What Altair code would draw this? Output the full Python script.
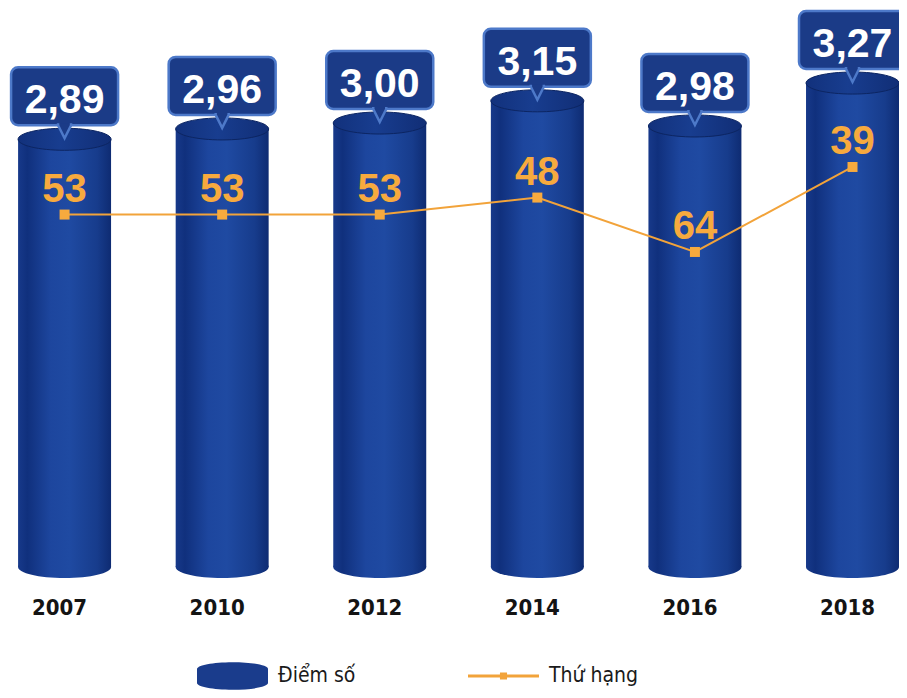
import altair as alt
import pandas as pd

# ---- data ----
years = ["2007", "2010", "2012", "2014", "2016", "2018"]
scores = [2.89, 2.96, 3.00, 3.15, 2.98, 3.27]
ranks = [53, 53, 53, 48, 64, 39]
legend_labels = ["Điểm số", "Thứ hạng"]

df = pd.DataFrame({"year": years, "score": scores, "rank": ranks})
df["score_label"] = [f"{v:.2f}".replace(".", ",") for v in scores]
df["rank_label"] = [str(r) for r in ranks]
leg = pd.DataFrame({"series": legend_labels})

# ---- styles ----
NARROW = "Liberation Sans Narrow, DejaVu Sans Condensed, Liberation Sans, sans-serif"
BOLD = "Liberation Sans, Arial, sans-serif"
NAVY = "#1a3c8c"
BOX_FILL = "#1b3b87"
BOX_STROKE = "#4d79c9"
ORANGE = "#f2a33a"
ORANGE_TXT = "#f7aa3e"

ELLIPSE = "M-1,0 A1,0.237 0 0 1 1,0 A1,0.237 0 0 1 -1,0 Z"
POINTER = "M-1,-1.3 L-1,-1 L0,1 L1,-1 L1,-1.3"
CYL_ICON = "M-1,-0.2 A1,0.19 0 0 1 1,-0.2 L1,0.2 A1,0.19 0 0 1 -1,0.2 Z"
LINE_ICON = ("M-1,-0.04 L1,-0.04 L1,0.04 L-1,0.04 Z "
             "M-0.1,-0.1 L0.1,-0.1 L0.1,0.1 L-0.1,0.1 Z")

body_grad = alt.Gradient(
    gradient="linear", x1=0, x2=1, y1=0, y2=0,
    stops=[
        alt.GradientStop(color="#17398a", offset=0),
        alt.GradientStop(color="#10307d", offset=0.1),
        alt.GradientStop(color="#1d469e", offset=0.35),
        alt.GradientStop(color="#1f4aa2", offset=0.55),
        alt.GradientStop(color="#173c8c", offset=0.85),
        alt.GradientStop(color="#0e2b72", offset=1),
    ],
)
cap_grad = alt.Gradient(
    gradient="linear", x1=0, x2=1, y1=0, y2=0,
    stops=[
        alt.GradientStop(color="#12317c", offset=0),
        alt.GradientStop(color="#183d8f", offset=0.45),
        alt.GradientStop(color="#112e76", offset=1),
    ],
)

x_enc = alt.X(
    "year:N", sort=years,
    scale=alt.Scale(paddingInner=0.41, paddingOuter=0.032, align=1),
    axis=alt.Axis(title=None, labelAngle=0, domain=False, ticks=False, grid=False,
                  labelFont=NARROW, labelFontSize=22, labelFontWeight="bold",
                  labelColor="#141414", labelPadding=19, labelOffset=-5),
)
score_scale = alt.Scale(domain=[-0.0743, 3.777], nice=False, zero=False)
rank_scale = alt.Scale(domain=[-7.76, 159.9], reverse=True, nice=False, zero=False)
y_score = alt.Y("score:Q", scale=score_scale, axis=None)
y_rank = alt.Y("rank:Q", scale=rank_scale, axis=None)

base = alt.Chart(df)

bottom_cap = base.mark_point(shape=ELLIPSE, size=93 * 93, filled=True, fill=body_grad,
                             opacity=1, strokeWidth=0).encode(
    x=x_enc, y=alt.Y(datum=0, type="quantitative", scale=score_scale, axis=None))
body = base.mark_bar(fill=body_grad).encode(
    x=x_enc, y=y_score, y2=alt.Y2(datum=0))
top_cap = base.mark_point(shape=ELLIPSE, size=93 * 93, filled=True, fill=cap_grad,
                          stroke="#0c2562", strokeWidth=1, opacity=1).encode(x=x_enc, y=y_score)

line = base.mark_line(color=ORANGE, strokeWidth=2).encode(x=x_enc, y=y_rank)
pts = base.mark_point(shape="square", size=100, filled=True, color=ORANGE_TXT,
                      opacity=1).encode(x=x_enc, y=y_rank)
rank_text = base.mark_text(dy=-13, baseline="alphabetic", font=BOLD, fontSize=40,
                           fontWeight="bold", color=ORANGE_TXT).encode(
    x=x_enc, y=y_rank, text="rank_label:N")

box = base.mark_bar(size=107, cornerRadius=7, fill=BOX_FILL, stroke=BOX_STROKE,
                    strokeWidth=2.5, yOffset=-72, y2Offset=-14, clip=True).encode(
    x=x_enc, y=y_score, y2="score:Q")
pointer = base.mark_point(shape=POINTER, size=169, filled=True, fill=BOX_FILL,
                          stroke=BOX_STROKE, strokeWidth=2.5, opacity=1,
                          yOffset=-7.5).encode(x=x_enc, y=y_score)
box_text = base.mark_text(dy=-26, baseline="alphabetic", font=BOLD, fontSize=41,
                          fontWeight="bold", color="white").encode(
    x=x_enc, y=y_score, text="score_label:N")

legend_def = alt.Legend(title=None, orient="none", legendX=189, legendY=653,
                        direction="horizontal", symbolSize=5041, symbolStrokeWidth=0,
                        labelFont=NARROW, labelFontSize=21, labelColor="#1a1a1a",
                        labelOffset=10, columnPadding=112, clipHeight=30, padding=0)
legend_layer = alt.Chart(leg).mark_point(filled=True, opacity=1, size=5041, clip=True).encode(
    x=alt.value(-400), y=alt.value(-400),
    color=alt.Color("series:N", sort=legend_labels,
                    scale=alt.Scale(domain=legend_labels, range=[NAVY, ORANGE]),
                    legend=legend_def),
    shape=alt.Shape("series:N", sort=legend_labels,
                    scale=alt.Scale(domain=legend_labels, range=[CYL_ICON, LINE_ICON]),
                    legend=legend_def),
)

chart = alt.layer(
    bottom_cap, body, top_cap, line, pts, rank_text, box, pointer, box_text, legend_layer
).resolve_scale(y="independent").properties(
    width=891, height=570,
    padding={"left": 0, "top": 0, "right": 0, "bottom": 112},
    autosize=alt.AutoSizeParams(type="none"),
).configure_view(stroke=None)

chart.save("out.html", embed_options={"renderer": "svg", "actions": False})
